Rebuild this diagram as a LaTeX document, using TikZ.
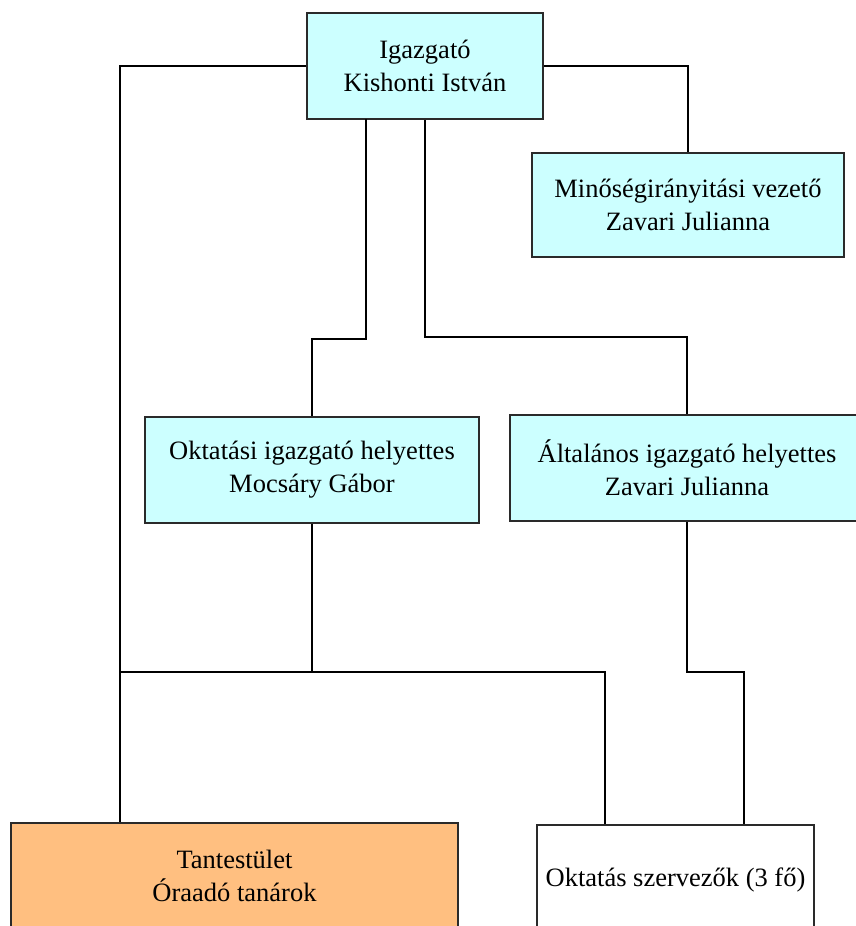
\documentclass[tikz,border=0pt]{standalone}
\usepackage{fontspec}
\setmainfont{Liberation Serif}
\definecolor{boxcyan}{HTML}{CCFFFF}
\definecolor{boxorange}{HTML}{FFBF80}
\definecolor{edgegray}{HTML}{2A2A2A}
\begin{document}
\begin{tikzpicture}[x=1pt,y=-1pt,
  orgbox/.style={draw=edgegray,line width=1.8pt,fill=boxcyan,rectangle,inner sep=0pt,
    align=center,font=\fontsize{26.5}{33}\selectfont},
  link/.style={draw=black,line width=1.5pt}]
\useasboundingbox (0,0) rectangle (856,926);
\begin{scope}
\clip (0,0) rectangle (856,926);
\node[orgbox,minimum width=236pt,minimum height=106pt] (top) at (425,66) {Igazgató\\Kishonti István};
\node[orgbox,minimum width=312pt,minimum height=104pt] (min) at (688,205) {Minőségirányitási vezető\\Zavari Julianna};
\node[orgbox,minimum width=334pt,minimum height=106pt] (okt) at (312,470) {Oktatási igazgató helyettes\\Mocsáry Gábor};
\node[orgbox,minimum width=354pt,minimum height=106pt] (alt) at (687,468) {Általános igazgató helyettes\\Zavari Julianna};
\node[orgbox,fill=boxorange,minimum width=447pt,minimum height=106pt] (tan) at (234.5,876) {Tantestület\\Óraadó tanárok};
\node[orgbox,fill=white,minimum width=277pt,minimum height=110pt] (osz) at (675.5,880) {Oktatás szervezők (3 fő)};
\end{scope}
\coordinate (L) at (120,0);
\coordinate (a1) at (366,119);
\coordinate (h1) at (0,339);
\coordinate (h2) at (0,337);
\coordinate (h3) at (0,672);
\coordinate (o1) at (605,0);
\coordinate (o2) at (744,0);
\draw[link] (top.west) -| (L |- tan.north);
\draw[link] (top.east) -| (min.north);
\draw[link] (a1) -- (a1 |- h1) -| (okt.north);
\draw[link] (top.south) -- (top.south |- h2) -| (alt.north);
\draw[link] (okt.south) -- (okt.south |- h3) -- (L |- h3);
\draw[link] (okt.south |- h3) -| (o1 |- osz.north);
\draw[link] (alt.south) -- (alt.south |- h3) -| (o2 |- osz.north);
\end{tikzpicture}
\end{document}
